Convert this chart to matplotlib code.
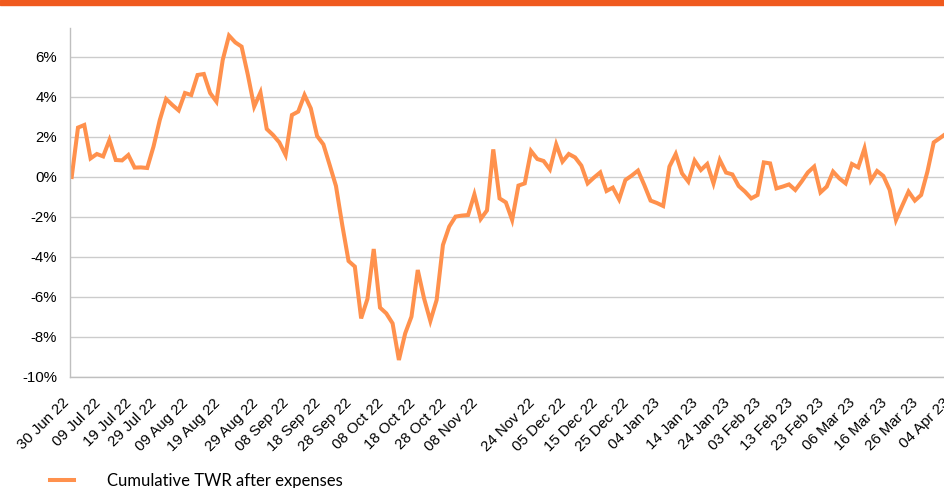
import numpy as np
import matplotlib
matplotlib.use('Agg')
import matplotlib.pyplot as plt
from matplotlib.patches import Rectangle

# cumulative TWR after expenses (%), one value per observation
twr = [0.0, 2.47, 2.6, 0.93, 1.15, 1.03, 1.85, 0.85, 0.83, 1.1,
       0.47, 0.48, 0.45, 1.52, 2.85, 3.9, 3.6, 3.33, 4.2, 4.1,
       5.1, 5.15, 4.2, 3.77, 5.85, 7.07, 6.73, 6.52, 5.1, 3.52,
       4.23, 2.4, 2.1, 1.73, 1.1, 3.1, 3.27, 4.1, 3.43, 2.05,
       1.63, 0.6, -0.45, -2.4, -4.2, -4.48, -7.07, -6.1, -3.6, -6.53,
       -6.82, -7.32, -9.15, -7.82, -6.98, -4.65, -6.07, -7.2, -6.15, -3.4,
       -2.48, -1.98, -1.93, -1.9, -0.87, -2.1, -1.67, 1.38, -1.07, -1.27,
       -2.15, -0.43, -0.32, 1.3, 0.9, 0.8, 0.38, 1.63, 0.77, 1.15,
       0.98, 0.57, -0.32, -0.03, 0.23, -0.7, -0.53, -1.12, -0.15, 0.07,
       0.32, -0.4, -1.18, -1.3, -1.45, 0.52, 1.15, 0.18, -0.23, 0.82,
       0.35, 0.65, -0.32, 0.85, 0.22, 0.13, -0.45, -0.73, -1.07, -0.9,
       0.73, 0.68, -0.57, -0.48, -0.37, -0.65, -0.23, 0.23, 0.52, -0.77,
       -0.48, 0.27, -0.07, -0.32, 0.65, 0.48, 1.43, -0.18, 0.3, 0.05,
       -0.65, -2.15, -1.43, -0.73, -1.18, -0.9, 0.27, 1.73, 1.95, 2.18,
       1.9]

tickPos = [0, 5, 10, 14, 19, 24, 30, 35, 40, 45, 50, 55, 60, 65,
           74, 79, 84, 89, 94, 100, 105, 110, 115, 120, 125, 130, 135, 140]
tickLabels = ['30 Jun 22', '09 Jul 22', '19 Jul 22', '29 Jul 22', '09 Aug 22',
              '19 Aug 22', '29 Aug 22', '08 Sep 22', '18 Sep 22', '28 Sep 22',
              '08 Oct 22', '18 Oct 22', '28 Oct 22', '08 Nov 22', '24 Nov 22',
              '05 Dec 22', '15 Dec 22', '25 Dec 22', '04 Jan 23', '14 Jan 23',
              '24 Jan 23', '03 Feb 23', '13 Feb 23', '23 Feb 23', '06 Mar 23',
              '16 Mar 23', '26 Mar 23', '04 Apr 23']
yTicks = [-10, -8, -6, -4, -2, 0, 2, 4, 6]

plt.rcParams['font.family'] = ['Liberation Sans', 'DejaVu Sans']

fig = plt.figure(figsize=(9.45, 4.88), dpi=100)
W, H = 945, 488
ax = fig.add_axes([70 / W, 1 - 377 / H, (957 - 70) / W, (377 - 28) / H])

x = np.arange(len(twr))
ax.plot(x, twr, color='#FF914D', lw=2.9, solid_joinstyle='miter',
        label='Cumulative TWR after expenses', clip_on=True)

ax.set_xlim(-0.27, 140.7)
ax.set_ylim(-10, 7.45)

ax.set_yticks(yTicks, [str(v) + '%' for v in yTicks])
ax.set_xticks(tickPos, tickLabels, rotation=45, ha='right', va='top')
ax.tick_params(axis='y', length=0, pad=9.4, labelsize=10.8, colors='#000000')
ax.tick_params(axis='x', length=0, pad=13.5, labelsize=10.8, colors='#000000')

ax.grid(axis='y', color='#CCCCCC', lw=1)
ax.set_axisbelow(True)
for s in ['top', 'right']:
    ax.spines[s].set_visible(False)
for s in ['left', 'bottom']:
    ax.spines[s].set_color('#BFBFBF')
    ax.spines[s].set_linewidth(1)

# orange band along the top edge
fig.patches.append(Rectangle((0, 1 - 5 / H), 1, 5 / H, transform=fig.transFigure,
                             color='#F05A1E', zorder=5))

leg = fig.legend(loc='center left', bbox_to_anchor=(50 / W, 1 - 481 / H),
                 frameon=False, borderpad=0, borderaxespad=0,
                 handlelength=1.45, handletextpad=2.0,
                 prop={'family': ['Lato', 'DejaVu Sans'], 'size': 12})

fig.savefig('out.png', dpi=100)
